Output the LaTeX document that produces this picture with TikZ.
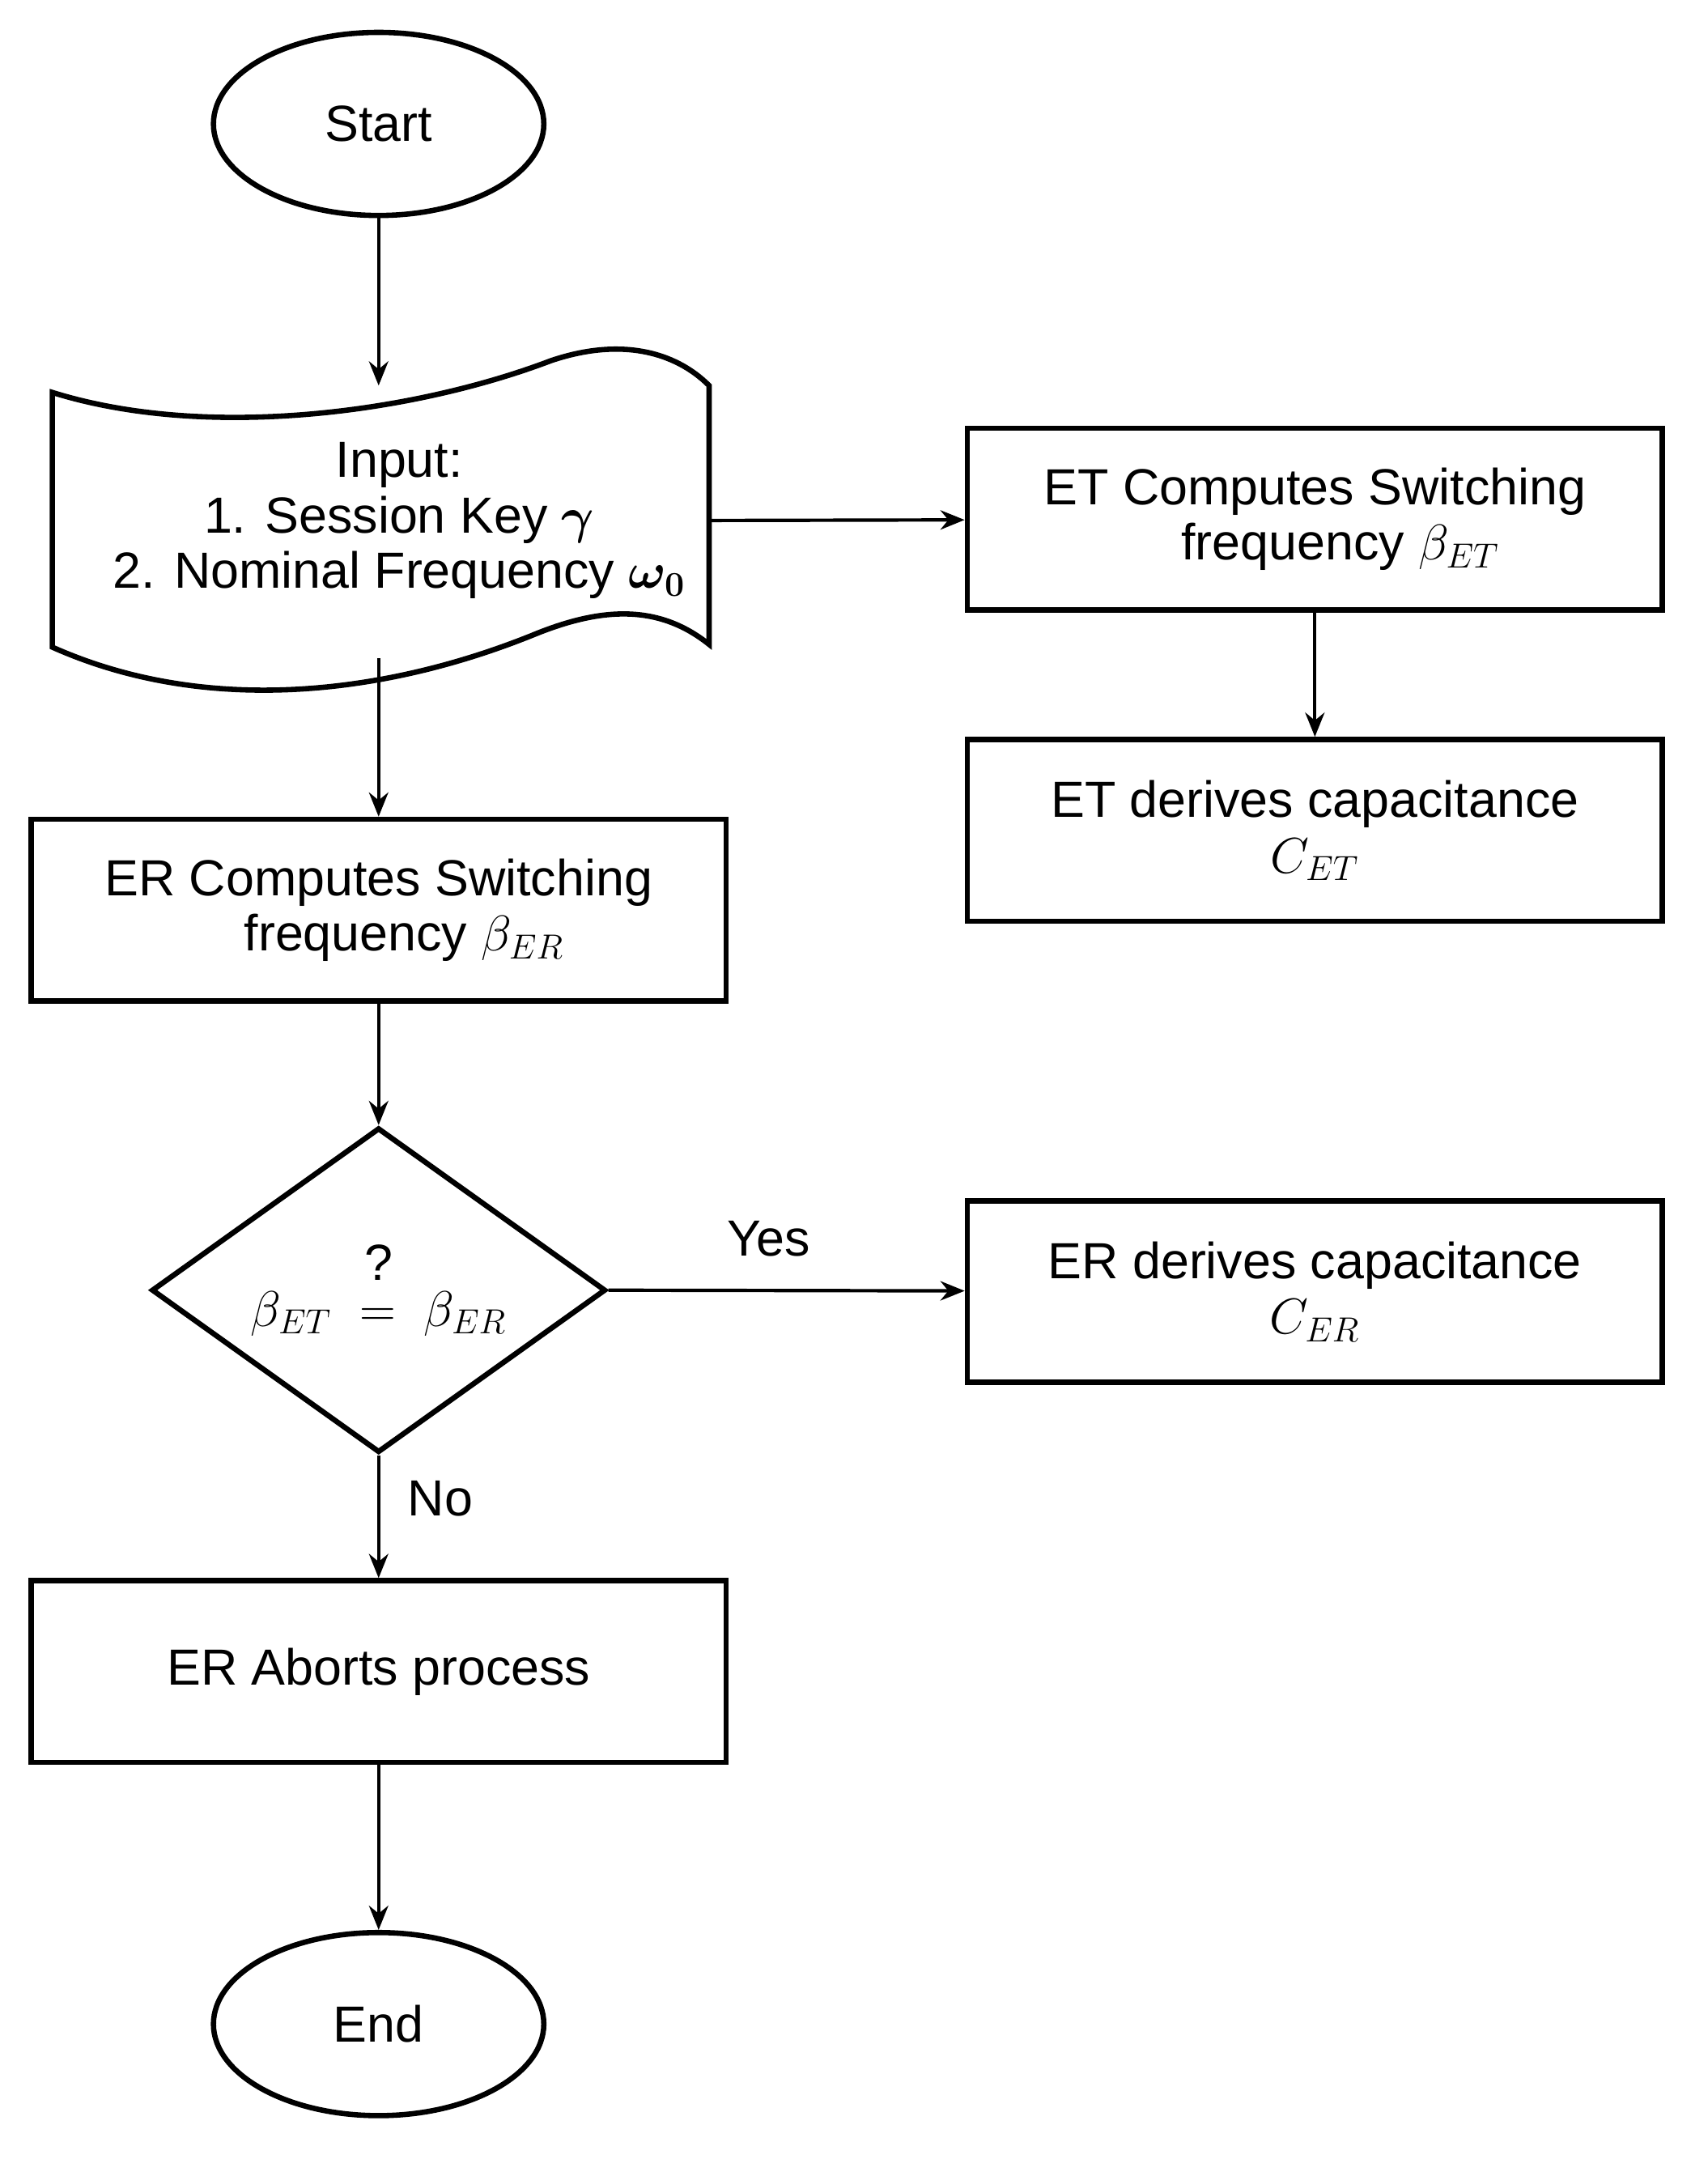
\documentclass[tikz,border=0pt]{standalone}
\usepackage{amsmath,amssymb,bm}
\usepackage{fontspec}
\setmainfont{Liberation Sans}
\usetikzlibrary{shapes.geometric, positioning, arrows.meta}
\tikzset{
  box/.style={draw, line width=2.2pt, minimum width=10.1cm, minimum height=2.64cm, align=center},
  term/.style={draw, ellipse, line width=2.2pt, minimum width=4.8cm, minimum height=2.66cm},
  flow/.style={-{Stealth[length=10pt,width=8pt]}, line width=1.4pt}
}
\begin{document}
\begin{tikzpicture}[x=0.02cm, y=-0.02cm, font=\fontsize{21}{23}\selectfont]
        \useasboundingbox (0,0) rectangle (1240,1568);

        % terminals
        \node[term] (start) at (275,90) {Start};
        \node[term] (end) at (275,1470) {End};

        % input document
        \draw[line width=2.2pt] (38,285) .. controls (150,320) and (300,300) .. (400,262)
            .. controls (450,245) and (490,255) .. (515,280) -- (515,468)
            .. controls (480,440) and (440,440) .. (390,460)
            .. controls (280,505) and (150,520) .. (38,470) -- cycle;
        \node[align=center] (input) at (290,378) {Input:\\ 1. Session Key $\bm{\gamma}$\\ 2. Nominal Frequency $\bm{\omega_0}$};
        \coordinate (intop) at (275,280);
        \coordinate (inbot) at (275,478);
        \coordinate (inright) at (515,378);

        % process boxes
        \node[box] (etc) at (955,377) {ET Computes Switching\\ \quad frequency $\beta_{ET}$};
        \node[box] (etd) at (955,603) {ET derives capacitance\\ $C_{ET}$};
        \node[box] (erc) at (275,661) {ER Computes Switching\\ \quad frequency $\beta_{ER}$};
        \node[draw, diamond, line width=2.2pt, minimum width=6.6cm, minimum height=4.72cm, inner sep=0pt] (dec) at (275,937) {};
        \node[align=center] at (275,937) {?\\[-4pt] $\beta_{ET}\ =\ \beta_{ER}$};
        \node[box] (erd) at (955,938) {ER derives capacitance\\ $C_{ER}$};
        \node[box] (abort) at (275,1214) {ER Aborts process};

        % connectors
        \draw[flow] (start) -- (intop);
        \draw[flow] (inright) -- (etc);
        \draw[flow] (etc) -- (etd);
        \draw[flow] (inbot) -- (erc);
        \draw[flow] (erc) -- (dec);
        \draw[flow] (dec.east) -- (erd) node[pos=0.45, above=10pt] {Yes};
        \draw[flow] (dec.south) -- (abort) node[pos=0.35, right=8pt] {No};
        \draw[flow] (abort) -- (end);
    \end{tikzpicture}
\end{document}
